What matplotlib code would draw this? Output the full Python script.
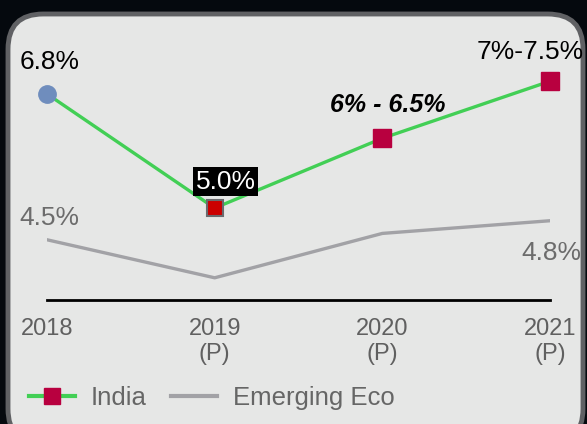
import matplotlib.pyplot as plt
from matplotlib.patches import FancyBboxPatch

years = ['2018', '2019\n(P)', '2020\n(P)', '2021\n(P)']
india = [6.8, 5.0, 6.1, 7.0]
emerging = [4.5, 3.9, 4.6, 4.8]
india_labels = ['6.8%', '5.0%', '6% - 6.5%', '7%-7.5%']
emerging_labels = ['4.5%', '', '', '4.8%']

plt.rcParams['font.family'] = ['Liberation Sans', 'DejaVu Sans']

W, H = 587, 424
fig = plt.figure(figsize=(W / 100, H / 100), dpi=100)
fig.patch.set_facecolor('#05090e')

# rounded panel behind the chart
panel = FancyBboxPatch((8 / W, -20 / H), 575 / W, 430 / H,
                       boxstyle='round,pad=0,rounding_size=0.06',
                       transform=fig.transFigure, facecolor='#e6e7e6',
                       edgecolor='#606164', linewidth=3.5, zorder=-5,
                       mutation_aspect=W / H)
fig.patches.append(panel)

ax = fig.add_axes([47 / W, (H - 300) / H, 503 / W, 260 / H])
ax.set_zorder(2)
ax.set_facecolor('none')
x = list(range(len(years)))

ax.plot(x, emerging, color='#a2a2a6', lw=2.4, zorder=2)
ax.plot(x, india, color='#42cf55', lw=2.4, zorder=3)
ax.plot(x[0], india[0], 'o', ms=12.5, color='#6f8dbd', zorder=4, clip_on=False)
ax.plot(x[1], india[1], 's', ms=11, color='#cc0000', mec='#6a6a6e', mew=1.5,
        zorder=4, clip_on=False)
ax.plot(x[2:], india[2:], 's', ms=13, color='#b8003f', lw=0, zorder=4, clip_on=False)

ax.set_xlim(0, 3)
ax.set_ylim(3.55, 7.65)
for s in ['top', 'left', 'right']:
    ax.spines[s].set_visible(False)
ax.spines['bottom'].set_color('black')
ax.spines['bottom'].set_linewidth(2)
ax.set_yticks([])
ax.set_xticks(x)
ax.set_xticklabels(years, fontsize=17, color='#606060', linespacing=1.15)
ax.tick_params(axis='x', length=0, pad=13)

# data labels (offsets in points)
offs = [(2, 23), (8, 19), (4, 24), (-14, 21)]
for i, lab in enumerate(india_labels):
    kw = dict(fontsize=19, color='black')
    if i == 1:
        kw = dict(fontsize=19, color='white',
                  bbox=dict(boxstyle='square,pad=0.1', fc='black', ec='none'))
    if i == 2:
        kw = dict(fontsize=18, color='black', fontweight='bold', fontstyle='italic')
    ax.annotate(lab, (x[i], india[i]), xytext=offs[i], textcoords='offset points',
                ha='center', va='center', annotation_clip=False, zorder=5, **kw)

eoffs = [(2, 16), None, None, (1, -23)]
for i, lab in enumerate(emerging_labels):
    if lab:
        ax.annotate(lab, (x[i], emerging[i]), xytext=eoffs[i], textcoords='offset points',
                    ha='center', va='center', fontsize=19, color='#6c6c6c',
                    annotation_clip=False)

h1, = ax.plot([], [], color='#42cf55', lw=3, marker='s', ms=12,
              mfc='#b8003f', mec='#b8003f')
h2, = ax.plot([], [], color='#a2a2a6', lw=3)
fig.legend([h1, h2], ['India', 'Emerging Eco'], loc='center left',
           bbox_to_anchor=(6 / W, 26 / H), ncol=2, frameon=False,
           fontsize=18.5, labelcolor='#666666', handlelength=1.8,
           handletextpad=0.6, columnspacing=0.95)

fig.savefig('out.png', dpi=100, facecolor=fig.get_facecolor())
